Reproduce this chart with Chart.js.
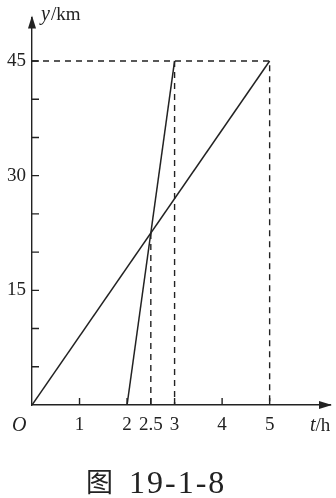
<!DOCTYPE html>
<html>
<head>
<meta charset="utf-8">
<script src="https://cdn.jsdelivr.net/npm/chart.js@4/dist/chart.umd.min.js"></script>
<style>
  html, body { margin: 0; padding: 0; background: #fff; }
  #wrap { width: 336px; height: 498px; position: relative; }
</style>
</head>
<body>
<div id="wrap"><canvas id="myChart"></canvas></div>
<script>
// data
var fastT = [2, 3];      // second car, t in h
var fastY = [0, 45];     // km
var slowT = [0, 5];      // first car
var slowY = [0, 45];
var meetT = 2.5;         // where the lines cross
var meetY = 22.5;
var xTicks = [1, 2, 2.5, 3, 4, 5];
var yTicks = [5, 10, 15, 20, 25, 30, 35, 40, 45];
var yLabels = [15, 30, 45];

var ink = '#222';
var serif = '"Liberation Serif", "DejaVu Serif", serif';

function pts(xs, ys) {
  return xs.map(function(x, i){ return {x: x, y: ys[i]}; });
}

function dashed(data) {
  return {data: data, showLine: true, borderColor: ink, borderWidth: 1.4,
    borderDash: [6, 5], pointRadius: 0, fill: false};
}

// arrows, inward tick marks and the free text
var extras = {
  id: 'extras',
  afterDraw: function(chart) {
    var c = chart.ctx, a = chart.chartArea;
    var xs = chart.scales.x, ys = chart.scales.y;
    var ox = xs.getPixelForValue(0), oy = ys.getPixelForValue(0);
    c.save();
    c.strokeStyle = ink;
    c.fillStyle = ink;
    c.lineWidth = 1.4;
    c.beginPath();
    yTicks.forEach(function(v){
      var p = ys.getPixelForValue(v);
      c.moveTo(ox, p); c.lineTo(ox + 7, p);
    });
    xTicks.forEach(function(v){
      var p = xs.getPixelForValue(v);
      c.moveTo(p, oy); c.lineTo(p, oy - 7);
    });
    c.stroke();
    // arrow heads
    c.beginPath();
    c.moveTo(a.right + 2, oy); c.lineTo(a.right - 11, oy - 4); c.lineTo(a.right - 11, oy + 4);
    c.closePath(); c.fill();
    c.beginPath();
    c.moveTo(ox, a.top - 2); c.lineTo(ox - 4, a.top + 11); c.lineTo(ox + 4, a.top + 11);
    c.closePath(); c.fill();

    c.textBaseline = 'alphabetic';
    c.textAlign = 'left';
    c.font = 'italic 20px ' + serif;
    c.fillText('y', 41, 20);
    var w = c.measureText('y').width;
    c.font = '19px ' + serif;
    c.fillText('/km', 41 + w + 1, 20);

    c.font = 'italic 20px ' + serif;
    c.fillText('O', 12, 431);
    c.fillText('t', 310, 431);
    w = c.measureText('t').width;
    c.font = '19px ' + serif;
    c.fillText('/h', 310 + w, 431);

    // caption
    c.font = '27px "Noto Sans CJK SC"';
    c.fillText('图', 86, 492);
    c.font = '32px ' + serif;
    c.letterSpacing = '2px';
    c.fillText('19-1-8', 129, 493);
    c.restore();
  }
};

function drawChart() {
  var ctx = document.getElementById('myChart').getContext('2d');
  new Chart(ctx, {
    type: 'scatter',
    data: {
      datasets: [
        {data: pts(slowT, slowY), showLine: true, borderColor: ink, borderWidth: 1.5, pointRadius: 0},
        {data: pts(fastT, fastY), showLine: true, borderColor: ink, borderWidth: 1.5, pointRadius: 0},
        dashed([{x: 0, y: slowY[1]}, {x: slowT[1], y: slowY[1]}, {x: slowT[1], y: 0}]),
        dashed([{x: fastT[1], y: fastY[1]}, {x: fastT[1], y: 0}]),
        dashed([{x: meetT, y: meetY}, {x: meetT, y: 0}])
      ]
    },
    options: {
      animation: false,
      responsive: true,
      maintainAspectRatio: false,
      layout: {padding: {top: 8, right: 6, bottom: 63, left: 0}},
      plugins: {legend: {display: false}, tooltip: {enabled: false}},
      scales: {
        x: {
          type: 'linear', min: 0, max: 6.27,
          grid: {display: false, drawTicks: false},
          border: {display: true, color: ink, width: 1.4},
          afterBuildTicks: function(s){ s.ticks = xTicks.map(function(v){ return {value: v}; }); },
          afterFit: function(s){ s.height = 30; },
          ticks: {autoSkip: false, maxRotation: 0, padding: 9, color: ink,
            font: {family: serif, size: 19},
            callback: function(v){ return String(v); }}
        },
        y: {
          type: 'linear', min: 0, max: 50.7,
          grid: {display: false, drawTicks: false},
          border: {display: true, color: ink, width: 1.4},
          afterBuildTicks: function(s){ s.ticks = yTicks.map(function(v){ return {value: v}; }); },
          afterFit: function(s){ s.width = 32; },
          ticks: {autoSkip: false, padding: 6, color: ink,
            font: {family: serif, size: 19},
            callback: function(v){ return yLabels.indexOf(v) >= 0 ? String(v) : ''; }}
        }
      }
    },
    plugins: [extras]
  });
}

drawChart();
</script>
</body>
</html>
